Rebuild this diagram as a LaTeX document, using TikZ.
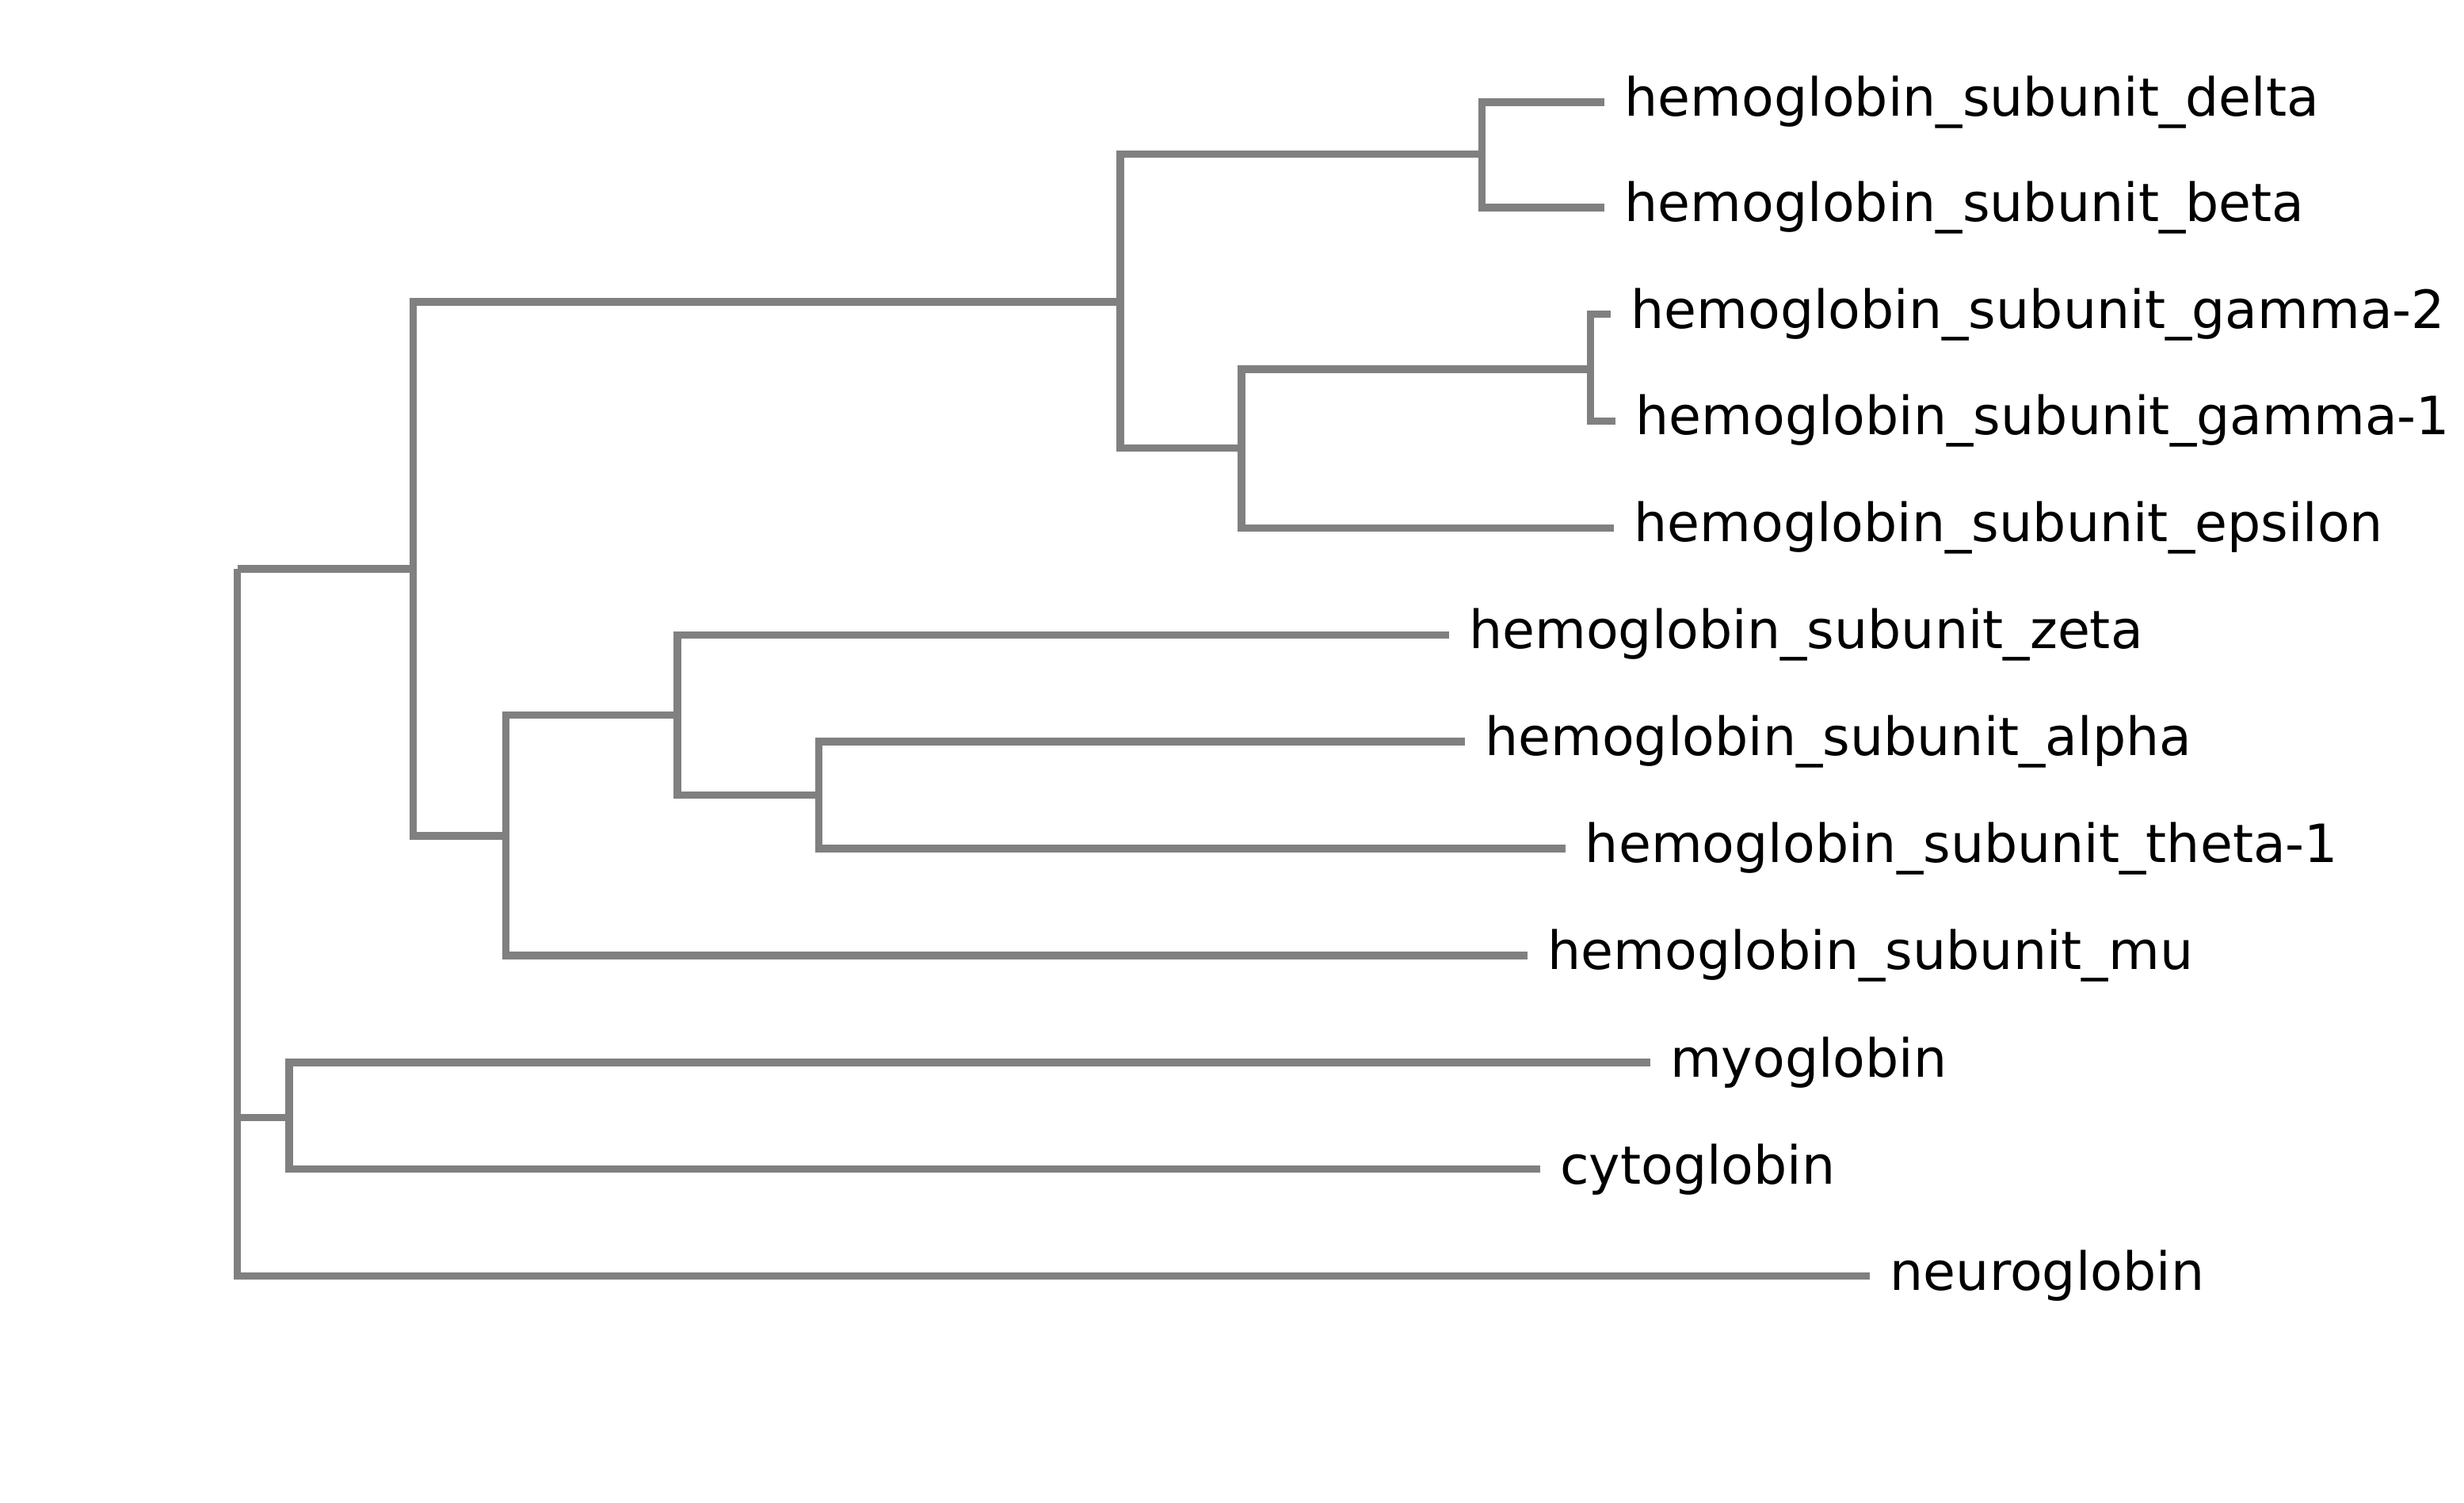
\documentclass[tikz,border=0pt]{standalone}
\usepackage{fontspec}
\setmainfont{DejaVu Sans}
\usepackage{tikz}
\usetikzlibrary{calc, positioning}

\begin{document}
\begin{tikzpicture}[
    x=0.02cm, y=-0.02cm,
    branch/.style={draw=gray, line width=2.7pt},
    leaf/.style={anchor=west, inner xsep=0.25cm, inner ysep=0pt,
                 font=\fontsize{19.1}{22}\selectfont}
]
    \useasboundingbox (0,0) rectangle (1568,956);
    % inner nodes of the tree
    \coordinate (root) at (151,362);
    \coordinate (hbs)  at (263,362);
    \coordinate (beta) at (713,192);
    \coordinate (db)   at (943,98);
    \coordinate (ge)   at (790,285);
    \coordinate (gg)   at (1012,235);
    \coordinate (alf)  at (322,532);
    \coordinate (zat)  at (431,455);
    \coordinate (at)   at (521,506);
    \coordinate (mc)   at (184,711);
    % leaves
    \foreach \nm/\lbl/\x/\y in {
        delta/hemoglobin\_subunit\_delta/1021/65,
        bet/hemoglobin\_subunit\_beta/1021/132,
        gtwo/hemoglobin\_subunit\_gamma-2/1025/200,
        gone/hemoglobin\_subunit\_gamma-1/1028/268,
        eps/hemoglobin\_subunit\_epsilon/1027/336,
        zeta/hemoglobin\_subunit\_zeta/922/404,
        alpha/hemoglobin\_subunit\_alpha/932/472,
        theta/hemoglobin\_subunit\_theta-1/996/540,
        mu/hemoglobin\_subunit\_mu/972/608,
        myo/myoglobin/1050/676,
        cyto/cytoglobin/980/744,
        neuro/neuroglobin/1190/812
    }{
        \node[leaf] (\nm) at (\x,\y) {\lbl};
    }
    % branches
    \draw[branch] (root) |- (hbs) (root) |- (mc) (root) |- (neuro.west);
    \draw[branch] (hbs) |- (beta) (hbs) |- (alf);
    \draw[branch] (beta) |- (db) (beta) |- (ge);
    \draw[branch] (db) |- (delta.west) (db) |- (bet.west);
    \draw[branch] (ge) |- (gg) (ge) |- (eps.west);
    \draw[branch] (gg) |- (gtwo.west) (gg) |- (gone.west);
    \draw[branch] (alf) |- (zat) (alf) |- (mu.west);
    \draw[branch] (zat) |- (zeta.west) (zat) |- (at);
    \draw[branch] (at) |- (alpha.west) (at) |- (theta.west);
    \draw[branch] (mc) |- (myo.west) (mc) |- (cyto.west);
\end{tikzpicture}
\end{document}
